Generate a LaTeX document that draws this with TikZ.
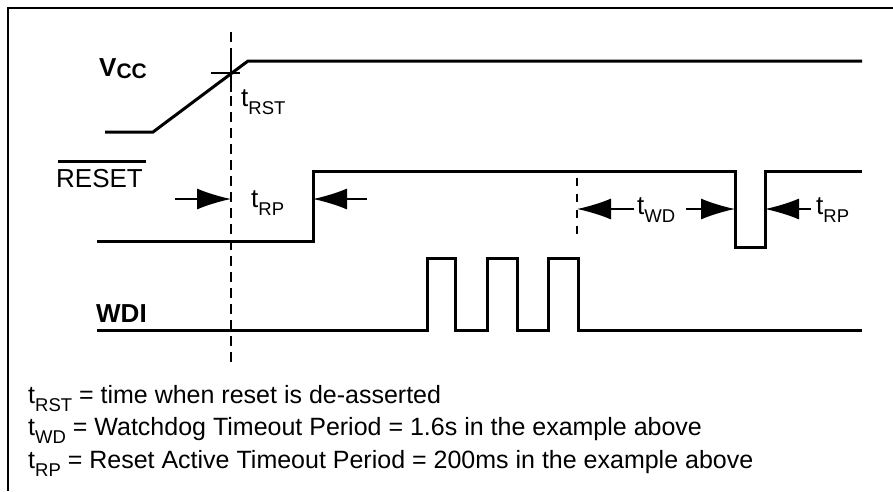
\documentclass[tikz,border=0pt]{standalone}
\usepackage{fontspec}
\setmainfont{Liberation Sans}
\usetikzlibrary{arrows.meta}
\newcommand\sbs[1]{\raisebox{-0.32em}{\fontsize{18.5}{18.5}\selectfont #1}}
\begin{document}
\begin{tikzpicture}[x=1pt,y=-1pt,
  sig/.style={line width=3pt,line join=miter},
  guide/.style={line width=1.8pt,dash pattern=on 10pt off 6pt},
  dim/.style={line width=1.4pt,arrows={-Latex[length=34pt,width=21pt]}},
  lbl/.style={font=\fontsize{26}{26}\selectfont\bfseries,inner sep=0pt,anchor=base west},
  tlbl/.style={font=\fontsize{26}{26}\selectfont,inner sep=0pt,anchor=base west},
  note/.style={font=\fontsize{25}{25}\selectfont,inner sep=0pt,anchor=base west}]
\useasboundingbox (0,0) rectangle (893,491);
% frame
\draw[line width=2pt] (8,491) -- (8,8) -- (893,8);
% guide lines
\coordinate (g1) at (231,32);
\coordinate (g2) at (231,363);
\draw[guide] (g1) -- (g2);
\coordinate (w1) at (577,178);
\coordinate (w2) at (577,240);
\draw[line width=1.5pt,dash pattern=on 8pt off 8pt] (w1) -- (w2);
% cross at tRST
\coordinate (c0) at (231,73);
\draw[line width=1.5pt] (211,73) -- (240,73);
\draw[line width=1.5pt] (231,52) -- (231,92);
% Vcc
\draw[sig] (105,132) -- (153,132) -- (248,61) -- (862,61);
% RESET
\draw[sig] (97,241) -- (313,241) -- (313,171) -- (735,171) -- (735,247) -- (765,247) -- (765,171) -- (862,171);
% WDI
\draw[sig] (97,330) -- (427,330) -- (427,258) -- (455,258) -- (455,330) -- (487,330) -- (487,258)
  -- (517,258) -- (517,330) -- (548,330) -- (548,258) -- (578,258) -- (578,330) -- (862,330);
% labels
\node[lbl] (vcc) at (99,76) {V\raisebox{-0.1em}{\fontsize{21}{21}\selectfont CC}};
\node[lbl] (rst) at (56,187) {\fontseries{m}\selectfont RESET};
\draw[line width=2.6pt] ([yshift=7pt,xshift=2pt]rst.north west) -- ([yshift=7pt,xshift=3pt]rst.north east);
\node[lbl] (wdi) at (96,322) {WDI};
\node[tlbl] (trst) at (241,106) {t\sbs{RST}};
\node[tlbl] (trp1) at (251,207) {t\sbs{RP}};
\node[tlbl] (twd) at (637,214) {t\sbs{WD}};
\node[tlbl] (trp2) at (816,214) {t\sbs{RP}};
% dimension arrows
\coordinate (a1) at (175,199); \coordinate (a1e) at (231,199);
\coordinate (a2) at (367,199); \coordinate (a2e) at (313,199);
\draw[dim] (a1) -- (a1e);
\draw[dim] (a2) -- (a2e);
\coordinate (b1) at (634,209); \coordinate (b1e) at (577,209);
\coordinate (b2) at (686,209); \coordinate (b2e) at (735,209);
\coordinate (b3) at (811,209); \coordinate (b3e) at (765,209);
\draw[dim] (b1) -- (b1e);
\draw[dim] (b2) -- (b2e);
\draw[dim] (b3) -- (b3e);
% notes
\node[note] (n1) at (28,403) {t\sbs{RST} = time when reset is de-asserted};
\node[note] (n2) at (28,435) {t\sbs{WD} = Watchdog Timeout Period = 1.6s in the example above};
\node[note] (n3) at (28,468) {t\sbs{RP} = Reset Active Timeout Period = 200ms in the example above};
\end{tikzpicture}
\end{document}
